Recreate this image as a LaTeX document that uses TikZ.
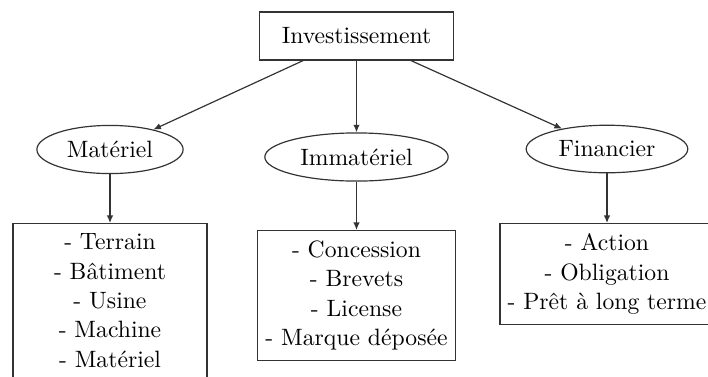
\documentclass[11pt,tikz,border=0pt]{standalone}
\usepackage{tikz}
\usetikzlibrary{arrows.meta,shapes.geometric}

\tikzset{
  topbox/.style={draw=black!80,line width=0.55pt,minimum width=89.8pt,minimum height=22.2pt},
  catnode/.style={draw=black!80,line width=0.55pt,ellipse,inner sep=4pt},
  listbox/.style={draw=black!80,line width=0.55pt,align=center,anchor=north,inner xsep=3.5pt,inner ysep=4.7pt,minimum width=89.8pt},
  link/.style={draw=black!80,line width=0.55pt,-{Latex[length=3.5pt,width=3pt]}}
}

\begin{document}
\begin{tikzpicture}[x=0.463pt,y=0.463pt]
  \useasboundingbox (0,0) rectangle (708,-376);
  \node[topbox] (inv) at (356.5,-36) {Investissement};
  % categories
  \node[catnode] (mat) at (110,-149.5) {Matériel};
  \node[catnode] (imm) at (356.5,-157) {Immatériel};
  \node[catnode] (fin) at (607,-149) {Financier};
  % lists
  \node[listbox] (matlist) at (110,-223) {- Terrain\\- Bâtiment\\- Usine\\- Machine\\- Matériel};
  \node[listbox] (immlist) at (356.5,-230) {- Concession\\- Brevets\\- License\\- Marque déposée};
  \node[listbox] (finlist) at (607,-223) {- Action\\- Obligation\\- Prêt à long terme};
  \draw[link] (inv) -- (mat);
  \draw[link] (inv) -- (imm);
  \draw[link] (inv) -- (fin);
  \draw[link] (mat) -- (matlist);
  \draw[link] (imm) -- (immlist);
  \draw[link] (fin) -- (finlist);
\end{tikzpicture}
\end{document}
